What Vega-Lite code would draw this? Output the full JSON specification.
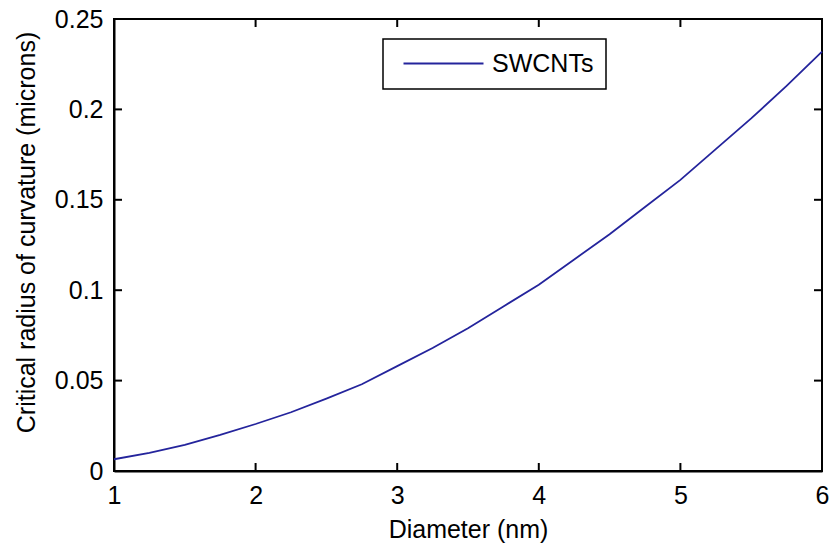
{
  "$schema": "https://vega.github.io/schema/vega-lite/v6.json",
  "autosize": {"type": "none"},
  "width": 708,
  "height": 452,
  "padding": {"left": 114, "top": 19, "right": 12, "bottom": 77},
  "background": "#ffffff",
  "config": {
    "view": {"stroke": "#000000", "strokeWidth": 2},
    "font": "Liberation Sans",
    "axis": {
      "labelFont": "Liberation Sans",
      "titleFont": "Liberation Sans",
      "labelFontSize": 25,
      "titleFontSize": 25,
      "titleFontWeight": "normal",
      "labelColor": "#000000",
      "titleColor": "#000000",
      "domainColor": "#000000",
      "domainWidth": 2,
      "grid": false
    }
  },
  "datasets": {
    "curve": [
      {"d": 1.0, "r": 0.0065, "series": "SWCNTs"},
      {"d": 1.25, "r": 0.0100, "series": "SWCNTs"},
      {"d": 1.5, "r": 0.0145, "series": "SWCNTs"},
      {"d": 1.75, "r": 0.0200, "series": "SWCNTs"},
      {"d": 2.0, "r": 0.0260, "series": "SWCNTs"},
      {"d": 2.25, "r": 0.0325, "series": "SWCNTs"},
      {"d": 2.5, "r": 0.0400, "series": "SWCNTs"},
      {"d": 2.75, "r": 0.0480, "series": "SWCNTs"},
      {"d": 3.0, "r": 0.0580, "series": "SWCNTs"},
      {"d": 3.25, "r": 0.0680, "series": "SWCNTs"},
      {"d": 3.5, "r": 0.0790, "series": "SWCNTs"},
      {"d": 3.75, "r": 0.0910, "series": "SWCNTs"},
      {"d": 4.0, "r": 0.1030, "series": "SWCNTs"},
      {"d": 4.25, "r": 0.1170, "series": "SWCNTs"},
      {"d": 4.5, "r": 0.1310, "series": "SWCNTs"},
      {"d": 4.75, "r": 0.1460, "series": "SWCNTs"},
      {"d": 5.0, "r": 0.1610, "series": "SWCNTs"},
      {"d": 5.25, "r": 0.1780, "series": "SWCNTs"},
      {"d": 5.5, "r": 0.1950, "series": "SWCNTs"},
      {"d": 5.75, "r": 0.2130, "series": "SWCNTs"},
      {"d": 6.0, "r": 0.2320, "series": "SWCNTs"}
    ],
    "xticks": [{"d": 2}, {"d": 3}, {"d": 4}, {"d": 5}],
    "yticks": [{"r": 0.05}, {"r": 0.1}, {"r": 0.15}, {"r": 0.2}]
  },
  "layer": [
    {
      "data": {"name": "curve"},
      "mark": {"type": "line", "strokeWidth": 1.8},
      "encoding": {
        "x": {
          "field": "d", "type": "quantitative",
          "scale": {"domain": [1, 6], "nice": false, "zero": false},
          "axis": {"title": "Diameter (nm)", "values": [1, 2, 3, 4, 5, 6], "format": "d", "ticks": false, "tickSize": 0, "labelPadding": 12, "titlePadding": 9, "labelFlush": false}
        },
        "y": {
          "field": "r", "type": "quantitative",
          "scale": {"domain": [0, 0.25], "nice": false},
          "axis": {"title": "Critical radius of curvature (microns)", "values": [0, 0.05, 0.1, 0.15, 0.2, 0.25], "format": "~g", "ticks": false, "tickSize": 0, "labelPadding": 11, "titlePadding": 15, "titleY": 213, "labelFlush": false}
        },
        "stroke": {
          "field": "series", "type": "nominal",
          "scale": {"range": ["#24249c"]},
          "legend": {
            "title": null,
            "orient": "none",
            "legendX": 269,
            "legendY": 20,
            "strokeColor": "#000000",
            "fillColor": "#ffffff",
            "padding": 12,
            "symbolType": "M-0.4,0H7.6",
            "symbolSize": 400,
            "symbolStrokeWidth": 1.8,
            "symbolFillColor": "transparent",
            "labelOffset": 72,
            "labelFont": "Liberation Sans",
            "labelFontSize": 25,
            "labelColor": "#000000",
            "cornerRadius": 0,
            "encode": {"legend": {"update": {"strokeWidth": {"value": 1.5}}}}
          }
        }
      }
    },
    {
      "data": {"name": "xticks"},
      "mark": {"type": "tick", "orient": "vertical", "size": 8, "thickness": 2, "color": "#000000", "opacity": 1, "yOffset": -4},
      "encoding": {
        "x": {"field": "d", "type": "quantitative"},
        "y": {"datum": 0, "type": "quantitative"}
      }
    },
    {
      "data": {"name": "xticks"},
      "mark": {"type": "tick", "orient": "vertical", "size": 8, "thickness": 2, "color": "#000000", "opacity": 1, "yOffset": 4},
      "encoding": {
        "x": {"field": "d", "type": "quantitative"},
        "y": {"datum": 0.25, "type": "quantitative"}
      }
    },
    {
      "data": {"name": "yticks"},
      "mark": {"type": "tick", "orient": "horizontal", "size": 8, "thickness": 2, "color": "#000000", "opacity": 1, "xOffset": 4},
      "encoding": {
        "x": {"datum": 1, "type": "quantitative"},
        "y": {"field": "r", "type": "quantitative"}
      }
    },
    {
      "data": {"name": "yticks"},
      "mark": {"type": "tick", "orient": "horizontal", "size": 8, "thickness": 2, "color": "#000000", "opacity": 1, "xOffset": -4},
      "encoding": {
        "x": {"datum": 6, "type": "quantitative"},
        "y": {"field": "r", "type": "quantitative"}
      }
    }
  ]
}
